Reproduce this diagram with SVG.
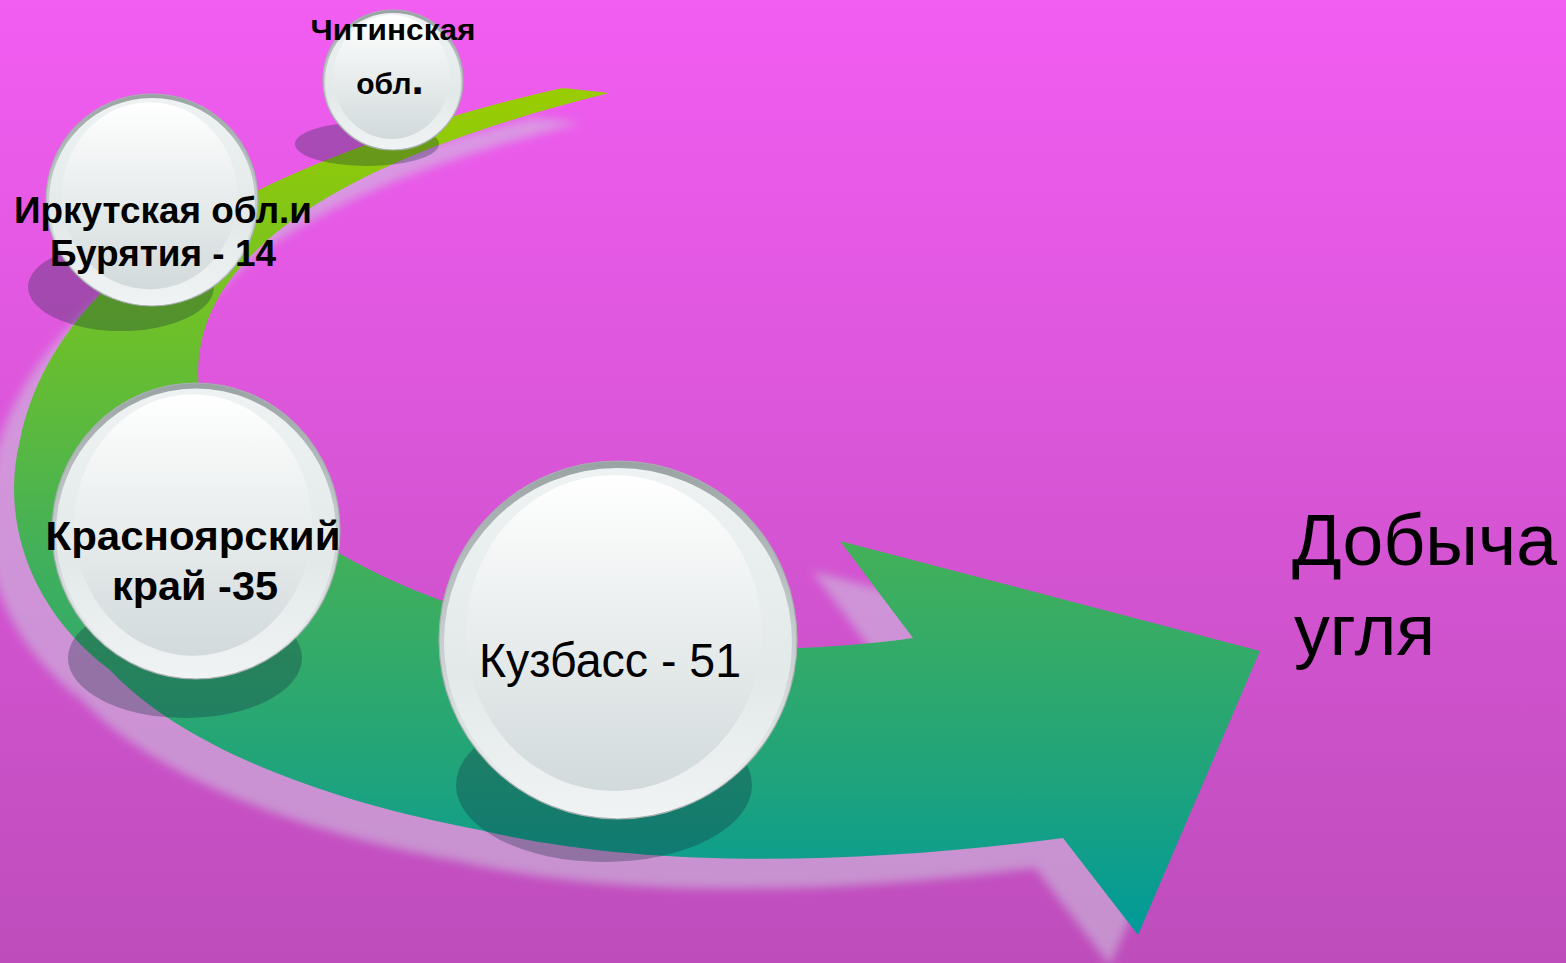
<svg xmlns="http://www.w3.org/2000/svg" width="1566" height="963" viewBox="0 0 1566 963">
<defs>
<linearGradient id="bg" x1="0" y1="0" x2="0" y2="1">
<stop offset="0" stop-color="#F25DF2"/>
<stop offset="1" stop-color="#BE4DBB"/>
</linearGradient>
<linearGradient id="arrowGrad" gradientUnits="userSpaceOnUse" x1="0" y1="88" x2="0" y2="935">
<stop offset="0" stop-color="#9ACD00"/>
<stop offset="0.3" stop-color="#6BBF2C"/>
<stop offset="0.55" stop-color="#42B05A"/>
<stop offset="0.8" stop-color="#21A47A"/>
<stop offset="1" stop-color="#009A99"/>
</linearGradient>
<linearGradient id="rimGrad" x1="0" y1="0" x2="0" y2="1">
<stop offset="0" stop-color="#9AA3A4"/>
<stop offset="0.45" stop-color="#C3CACB"/>
<stop offset="1" stop-color="#F2F5F5"/>
</linearGradient>
<linearGradient id="bodyGrad" x1="0" y1="0" x2="0" y2="1">
<stop offset="0" stop-color="#EEF2F2"/>
<stop offset="0.6" stop-color="#E3E9E9"/>
<stop offset="1" stop-color="#F0F3F3"/>
</linearGradient>
<linearGradient id="hlGrad" x1="0" y1="0" x2="0" y2="1">
<stop offset="0" stop-color="#FFFFFF"/>
<stop offset="1" stop-color="#D2DADB"/>
</linearGradient>
<filter id="blur" x="-10%" y="-10%" width="120%" height="120%">
<feGaussianBlur stdDeviation="5"/>
</filter>
<path id="arrowShape" d="M563,88 C470,108 330,150 230,205 C120,255 40,340 20,440 C0,520 30,610 110,670 C180,745 320,800 480,830 C640,868 850,866 1063,838 L1138,935 L1260,651 L840,541 L913,638 C760,660 560,650 440,600 C330,560 230,490 205,420 C190,370 200,320 230,280 C290,200 420,140 609,93 Z"/>
</defs>
<style>
.shadow { fill: #10283A; fill-opacity: 0.3; }
.rim { fill: url(#rimGrad); stroke: #A7AFB0; stroke-width: 1.2; }
.body { fill: url(#bodyGrad); }
.hl { fill: url(#hlGrad); }
.b { font-family: "Liberation Sans", Arial, sans-serif; font-weight: bold; fill: #000; text-anchor: middle; }
.r { font-family: "Liberation Sans", Arial, sans-serif; fill: #000; }
</style>
<rect x="0" y="0" width="1566" height="963" fill="url(#bg)"/>

<g id="connectors">
<use href="#arrowShape" transform="translate(-28,30)" fill="#CCC8DC" fill-opacity="0.55" filter="url(#blur)"/>
<use href="#arrowShape" fill="url(#arrowGrad)"/>
</g>

<g id="node-chita">
<ellipse class="shadow" cx="367" cy="144" rx="72" ry="22"/>
<circle class="rim" cx="393" cy="80" r="70"/>
<circle class="body" cx="393" cy="81" r="68"/>
<ellipse class="hl" cx="391.5" cy="77" rx="58" ry="62"/>
<text class="b" x="393" y="40" font-size="30" textLength="165" lengthAdjust="spacingAndGlyphs">Читинская</text>
<text class="b" x="390" y="94" font-size="30"><tspan>обл</tspan><tspan font-size="44">.</tspan></text>
</g>

<g id="node-irkutsk">
<ellipse class="shadow" cx="121" cy="287" rx="93" ry="44"/>
<circle class="rim" cx="152" cy="200" r="106"/>
<circle class="body" cx="152" cy="201" r="103"/>
<ellipse class="hl" cx="149.7" cy="195.8" rx="87.7" ry="93.6"/>
<text class="b" x="163" y="223" font-size="36" textLength="298" lengthAdjust="spacingAndGlyphs">Иркутская обл.и</text>
<text class="b" x="163" y="266" font-size="36" textLength="226" lengthAdjust="spacingAndGlyphs">Бурятия - 14</text>
</g>

<g id="node-krasnoyarsk">
<ellipse class="shadow" cx="185" cy="658" rx="117" ry="60"/>
<ellipse class="rim" cx="196" cy="531" rx="144" ry="148"/>
<ellipse class="body" cx="196" cy="532.5" rx="140" ry="144"/>
<ellipse class="hl" cx="193" cy="525" rx="119" ry="130.7"/>
<text class="b" x="193" y="550" font-size="40" textLength="295" lengthAdjust="spacingAndGlyphs">Красноярский</text>
<text class="b" x="195" y="600" font-size="40" textLength="166" lengthAdjust="spacingAndGlyphs">край -35</text>
</g>

<g id="node-kuzbass">
<ellipse class="shadow" cx="604" cy="785" rx="148" ry="77"/>
<circle class="rim" cx="618" cy="640" r="179"/>
<circle class="body" cx="618" cy="642" r="174"/>
<ellipse class="hl" cx="614" cy="633" rx="148" ry="158"/>
<text class="r" x="479" y="677" font-size="48" textLength="262" lengthAdjust="spacingAndGlyphs">Кузбасс - 51</text>
</g>

<g id="title">
<text class="r" x="1292" y="565" font-size="73" textLength="265" lengthAdjust="spacingAndGlyphs">Добыча</text>
<text class="r" x="1294" y="655" font-size="73" textLength="141" lengthAdjust="spacingAndGlyphs">угля</text>
</g>
</svg>
